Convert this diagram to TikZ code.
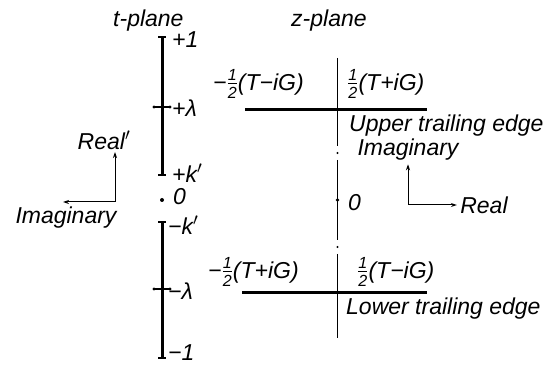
\documentclass[tikz,border=0pt]{standalone}
\usepackage{amsmath}
\usepackage{fontspec}
\setmainfont{Liberation Sans}
\usetikzlibrary{arrows.meta, calc}

\newcommand{\hf}{$\frac{\text{\itshape 1}}{\text{\itshape 2}}$}

\begin{document}
\begin{tikzpicture}[x=1pt, y=-1pt, font=\fontsize{23}{25}\selectfont\itshape,
	lbl/.style={inner sep=0pt, anchor=west},
	taxis/.style={line width=3pt},
	zaxis/.style={line width=1.3pt},
	edgeline/.style={line width=3pt},
	arr/.style={line width=1pt, -{Stealth[length=6pt, width=4pt]}}]
	\useasboundingbox (0,0) rectangle (550,366);
	% t-plane
	\coordinate (Ta) at (162,37);
	\coordinate (Tb) at (162,175);
	\coordinate (Tc) at (162,222);
	\coordinate (Td) at (162,358);
	\coordinate (Lu) at (162,107);
	\coordinate (Ll) at (162,289);
	\draw[taxis] (Ta) -- (Tb);
	\draw[taxis] (Tc) -- (Td);
	\foreach \p in {Ta,Tb,Tc,Td} {
		\draw[line width=1.3pt] ($(\p)+(-4,0)$) -- ($(\p)+(4,0)$);
	}
	\foreach \p in {Lu,Ll} {
		\draw[line width=1.5pt] ($(\p)+(-8,0)$) -- ($(\p)+(8,0)$);
		\fill ($(\p)+(-8,0)$) circle (1.6pt);
		\fill ($(\p)+(8,0)$) circle (1.6pt);
	}
	\fill (162,200) coordinate (T0) circle (2pt);
	\node[lbl] (tp1) at (172,40) {+1};
	\node[lbl] (tplam) at (172,108) {+λ};
	\node[lbl] (tpk) at (172,173) {+k$'$};
	\node[lbl] (tzero) at (173,197) {0};
	\node[lbl] (tmk) at (168,225) {−k$'$};
	\node[lbl] (tmlam) at (168,291) {−λ};
	\node[lbl] (tm1) at (168,353) {−1};
	\node[lbl] (tplane) at (113,21) {t-plane};
	% t-plane directions
	\coordinate (Lc) at (115,202);
	\node (treal) at (104,140) {Real$'$};
	\node (timag) at (66,218) {Imaginary};
	\draw[arr] (Lc) -- (115,152);
	\draw[arr] (Lc) -- (63,202);
	% z-plane
	\node[lbl] (zplane) at (291,21) {z-plane};
	\coordinate (Za) at (337.5,58);
	\coordinate (Zb) at (337.5,338);
	\draw[zaxis] (Za) -- (337.5,146);
	\draw[zaxis] (337.5,160) -- (337.5,240);
	\draw[zaxis] (337.5,254) -- (Zb);
	\fill (337.5,153) circle (1.1pt);
	\fill (337.5,247) circle (1.1pt);
	\fill (337.5,200) coordinate (Z0) circle (1.8pt);
	\node[lbl] (zzero) at (348,203) {0};
	% trailing edges
	\coordinate (Ul) at (245,110);
	\coordinate (Ur) at (427,110);
	\coordinate (Dl) at (242,293);
	\coordinate (Dr) at (427,293);
	\draw[edgeline] (Ul) -- (Ur);
	\draw[edgeline] (Dl) -- (Dr);
	\node[lbl] (ul) at (213,84) {−\hf(T−iG)};
	\node[lbl] (ur) at (347,84) {\hf(T+iG)};
	\node[lbl] (uedge) at (349,126) {Upper trailing edge};
	\node[lbl] (dl) at (208,272) {−\hf(T+iG)};
	\node[lbl] (dr) at (357,272) {\hf(T−iG)};
	\node[lbl] (dedge) at (346,309) {Lower trailing edge};
	% z-plane directions
	\coordinate (Rc) at (408,205);
	\node (zimag) at (408,150) {Imaginary};
	\node (zreal) at (484,205) {Real};
	\draw[arr] (Rc) -- (zimag.south);
	\draw[arr] (Rc) -- (zreal.west);
\end{tikzpicture}
\end{document}
